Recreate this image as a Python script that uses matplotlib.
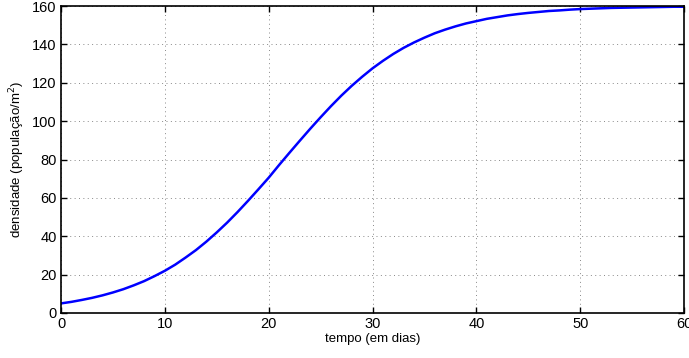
import matplotlib
matplotlib.use("Agg")
import matplotlib.pyplot as plt

# values (one per day)
tempo = list(range(0, 61))
densidade = [5.0, 5.8, 6.8, 7.9, 9.2, 10.7, 12.4, 14.4, 16.6, 19.2, 22.0,
             25.2, 28.9, 32.8, 37.2, 42.0, 47.1, 52.6, 58.4, 64.4, 70.5,
             77.1, 83.5, 89.8, 96.0, 102.0, 107.8, 113.3, 118.4, 123.1, 127.5,
             131.4, 135.0, 138.2, 141.0, 143.5, 145.8, 147.7, 149.4, 150.9, 152.1,
             153.3, 154.2, 155.1, 155.8, 156.4, 156.9, 157.4, 157.7, 158.1, 158.4,
             158.6, 158.8, 159.0, 159.1, 159.2, 159.3, 159.4, 159.5, 159.6, 159.6]
xticks = [0, 10, 20, 30, 40, 50, 60]
yticks = [0, 20, 40, 60, 80, 100, 120, 140, 160]

plt.rcParams['font.family'] = ['Liberation Sans', 'DejaVu Sans']

fig = plt.figure(figsize=(6.89, 3.58), dpi=100)
ax = fig.add_axes([61/689, 1 - 313/358, 623/689, 307/358])

ax.plot(tempo, densidade, color='#0000ff', lw=1.8)

ax.set_xlim(0, 60)
ax.set_ylim(0, 160)
ax.set_xticks(xticks)
ax.set_yticks(yticks)
ax.tick_params(direction='in', top=True, right=True, labelsize=10.5,
               length=4, width=1, pad=3)
ax.grid(True, linestyle=(0, (1, 3.5)), color='#888888', lw=0.7)
for s in ax.spines.values():
    s.set_linewidth(1.2)

ax.set_xlabel('tempo (em dias)', fontsize=9.5, labelpad=1)
ax.set_ylabel('densidade (população/m$^2$)', fontsize=9.5, labelpad=4)

fig.savefig('out.png', dpi=100)
